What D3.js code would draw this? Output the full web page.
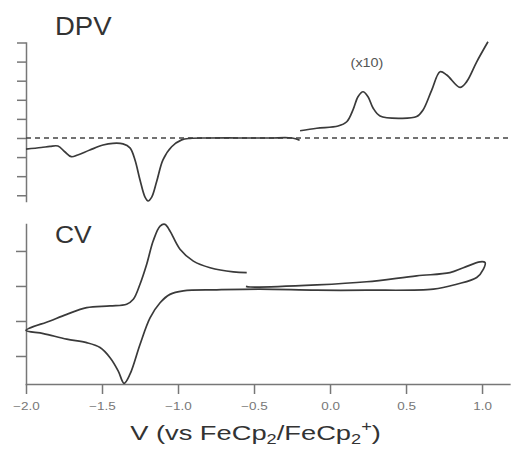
<!DOCTYPE html>
<html>
<head>
<meta charset="utf-8">
<script src="https://cdn.jsdelivr.net/npm/d3@7"></script>
<style>
  body { margin: 0; background: #fff; }
  svg { display: block; font-family: "Liberation Sans", Arial, Helvetica, sans-serif; }
  .axis path, .axis line { stroke: #777; stroke-width: 1.5; }
  .axis text { fill: #777; font-size: 10px; }
</style>
</head>
<body>
<svg id="svg" width="511" height="454"></svg>
<script>
"use strict";

// DPV main trace (potential V, current in tick units)
const dpvV = [-2.0, -1.9, -1.842, -1.79, -1.745, -1.702, -1.66, -1.58, -1.493, -1.428, -1.362, -1.316, -1.283, -1.25, -1.217, -1.197, -1.173, -1.14, -1.099, -1.042, -0.976, -0.921, -0.8, -0.6, -0.4, -0.25, -0.2];
const dpvI = [-0.58, -0.5, -0.44, -0.42, -0.72, -0.98, -0.89, -0.63, -0.37, -0.28, -0.31, -0.52, -1.15, -2.2, -3.1, -3.3, -3.1, -2.27, -1.15, -0.46, -0.1, -0.02, 0, 0, 0, 0, -0.12];

// DPV (x10) trace
const dpv10V = [-0.197, -0.087, 0.053, 0.11, 0.151, 0.184, 0.217, 0.25, 0.283, 0.329, 0.461, 0.57, 0.612, 0.669, 0.724, 0.768, 0.855, 0.899, 0.965, 1.039];
const dpv10I = [0.38, 0.51, 0.63, 0.85, 1.47, 2.16, 2.42, 2.16, 1.57, 1.15, 1.03, 1.12, 1.47, 2.51, 3.47, 3.30, 2.65, 2.95, 3.99, 5.04];

// CV trace, one sweep: -0.55 -> -2.0 -> 1.0 -> -0.55
const cvV = [-0.548, -0.636, -0.789, -0.899, -0.987, -1.053, -1.086, -1.118, -1.163, -1.206, -1.25, -1.294, -1.338, -1.447, -1.601, -1.732, -1.842, -2.0,
             -1.886, -1.732, -1.601, -1.513, -1.447, -1.393, -1.355, -1.316, -1.25, -1.184, -1.118, -1.053, -0.965, -0.745, -0.461, -0.087, 0.241, 0.68, 0.833, 0.965, 1.009, 1.02,
             0.987, 0.877, 0.789, 0.57, 0.241, -0.087, -0.526, -0.553];
const cvI = [1.38, 1.40, 1.52, 1.71, 2.05, 2.57, 2.76, 2.71, 2.29, 1.62, 1.05, 0.62, 0.48, 0.43, 0.38, 0.19, 0, -0.27,
             -0.36, -0.52, -0.62, -0.76, -1.05, -1.43, -1.78, -1.52, -0.67, 0.09, 0.52, 0.76, 0.86, 0.89, 0.91, 0.88, 0.88, 0.91, 1.05, 1.24, 1.48, 1.67,
             1.69, 1.52, 1.38, 1.29, 1.12, 1.03, 0.97, 0.99];

const xTicks = [-2.0, -1.5, -1.0, -0.5, 0.0, 0.5, 1.0];
const dpvTicks = [-3, -2, -1, 0, 1, 2, 3, 4, 5];
const cvTicks = [-1, 0, 1, 2];

const svg = d3.select("#svg");

const xScale = d3.scaleLinear().domain([-2, 1.18]).range([26, 509.4]);
const yDpv = d3.scaleLinear().domain([-3.3, 5]).range([201, 42.5]);
const yCv = d3.scaleLinear().domain([-1.8, 2.77]).range([384, 224]);

// axes
const gX = svg.append("g")
  .attr("class", "axis")
  .attr("transform", "translate(0," + yCv(-1.8) + ")")
  .call(d3.axisBottom(xScale).tickValues(xTicks).tickSize(10).tickSizeOuter(0).tickPadding(9)
    .tickFormat(d3.format(".1f")));
gX.selectAll("text").attr("transform", "scale(1.35,1)");

svg.append("g")
  .attr("class", "axis")
  .attr("transform", "translate(" + xScale(-2) + ",0)")
  .call(d3.axisLeft(yDpv).tickValues(dpvTicks).tickSize(9).tickSizeOuter(0).tickFormat(""));

svg.append("g")
  .attr("class", "axis")
  .attr("transform", "translate(" + xScale(-2) + ",0)")
  .call(d3.axisLeft(yCv).tickValues(cvTicks).tickSize(10).tickSizeOuter(0).tickFormat(""));

svg.selectAll(".axis .domain").attr("stroke-linecap", "square");

// dashed zero line
svg.append("line")
  .attr("x1", xScale(-2)).attr("x2", 511)
  .attr("y1", yDpv(0)).attr("y2", yDpv(0))
  .attr("stroke", "#444").attr("stroke-width", 1.4)
  .attr("stroke-dasharray", "5,4");

const line = d3.line().curve(d3.curveCatmullRom.alpha(0.5));

function trace(vs, is, y) {
  svg.append("path")
    .attr("d", line(vs.map((v, k) => [xScale(v), y(is[k])])))
    .attr("fill", "none")
    .attr("stroke", "#3a3a3a")
    .attr("stroke-width", 1.7)
    .attr("stroke-linejoin", "round");
}

trace(dpvV, dpvI, yDpv);
trace(dpv10V, dpv10I, yDpv);
trace(cvV, cvI, yCv);

// labels
svg.append("text").attr("transform", "translate(55,35) scale(1.1,1)")
  .attr("font-size", 25).attr("fill", "#333").text("DPV");
svg.append("text").attr("transform", "translate(55,243) scale(1.1,1)")
  .attr("font-size", 24).attr("fill", "#333").text("CV");
svg.append("text").attr("transform", "translate(367,67) scale(1.2,1)").attr("text-anchor", "middle")
  .attr("font-size", 12).attr("fill", "#555").text("(x10)");

const title = svg.append("text").attr("transform", "translate(255.5,440) scale(1.3,1)")
  .attr("text-anchor", "middle").attr("font-size", 21).attr("fill", "#333");
title.append("tspan").text("V (vs FeCp");
title.append("tspan").attr("font-size", 14).attr("dy", 4).text("2");
title.append("tspan").attr("dy", -4).text("/FeCp");
title.append("tspan").attr("font-size", 14).attr("dy", 4).text("2");
title.append("tspan").attr("font-size", 14).attr("dy", -13).text("+");
title.append("tspan").attr("dy", 9).text(")");
</script>
</body>
</html>
